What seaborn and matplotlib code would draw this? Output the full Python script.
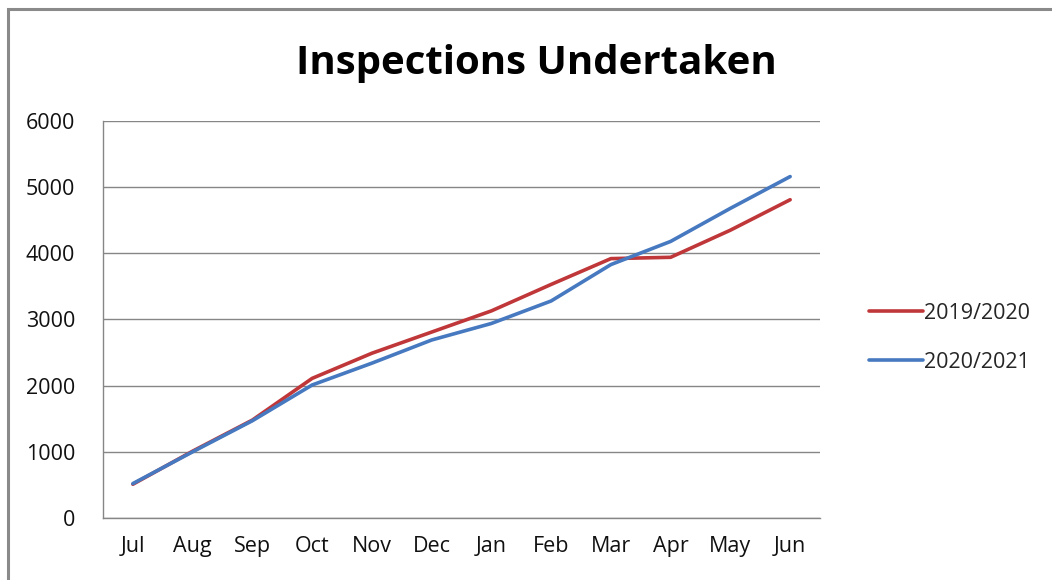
import matplotlib
matplotlib.use("Agg")
import matplotlib.pyplot as plt
from matplotlib.patches import Rectangle
import seaborn as sns
import pandas as pd

months = ["Jul", "Aug", "Sep", "Oct", "Nov", "Dec", "Jan", "Feb", "Mar", "Apr", "May", "Jun"]
series_names = ["2019/2020", "2020/2021"]
inspections_2019_20 = [510, 1010, 1480, 2110, 2490, 2810, 3130, 3530, 3920, 3940, 4350, 4810]
inspections_2020_21 = [520, 1000, 1470, 2010, 2340, 2690, 2940, 3280, 3830, 4180, 4680, 5160]
y_ticks = [0, 1000, 2000, 3000, 4000, 5000, 6000]
title = "Inspections Undertaken"

colors = {"2019/2020": "#C0373A", "2020/2021": "#4679C0"}

df = pd.concat([
    pd.DataFrame({"month": months, "count": inspections_2019_20, "season": series_names[0]}),
    pd.DataFrame({"month": months, "count": inspections_2020_21, "season": series_names[1]}),
])
df["pos"] = df["month"].map({m: i for i, m in enumerate(months)})

sns.set_theme(style="white")
plt.rcParams["font.family"] = ["Open Sans", "DejaVu Sans"]

fig = plt.figure(figsize=(10.52, 5.8), dpi=100)
ax = fig.add_axes([0.0979, 0.1069, 0.6816, 0.6845])

sns.lineplot(data=df, x="pos", y="count", hue="season", hue_order=series_names,
             palette=colors, linewidth=2.6, ax=ax, legend=True, sort=False)

ax.set_xlim(-0.5, len(months) - 0.5)
ax.set_ylim(0, 6000)
ax.set_yticks(y_ticks)
ax.set_yticklabels([str(v) for v in y_ticks])
ax.set_xticks(range(len(months)))
ax.set_xticklabels(months)
ax.set_xticks([i - 0.5 for i in range(len(months) + 1)], minor=True)
ax.tick_params(axis="x", which="major", length=0, pad=13, labelsize=15.5, colors="#111111")
ax.tick_params(axis="x", which="minor", length=7, width=1, color="#868686", direction="out")
ax.tick_params(axis="y", which="major", length=7, width=1, color="#868686", direction="out",
               pad=13, labelsize=15.5, labelcolor="#111111")
ax.set_xlabel("")
ax.set_ylabel("")

ax.yaxis.grid(True, color="#868686", linewidth=1)
ax.xaxis.grid(False)
ax.set_axisbelow(True)
for side in ["top", "right"]:
    ax.spines[side].set_visible(False)
for side in ["left", "bottom"]:
    ax.spines[side].set_color("#868686")
    ax.spines[side].set_linewidth(1)

handles, labels = ax.get_legend_handles_labels()
ax.get_legend().remove()
fig.legend(handles, labels, loc="center left", bbox_to_anchor=(0.808, 0.418),
           frameon=False, fontsize=15.5, handlelength=2.5, handletextpad=0.05,
           labelspacing=1.3)

fig.text(0.5095, 0.891, title, ha="center", va="center", fontsize=29,
         fontweight="bold", color="#000000")

# chart area border
fig.patches.append(Rectangle((0.0076, -0.05), 1.05, 1.034, transform=fig.transFigure,
                             fill=False, edgecolor="#8a8a8a", linewidth=2.2))

fig.savefig("out.png", dpi=100)
